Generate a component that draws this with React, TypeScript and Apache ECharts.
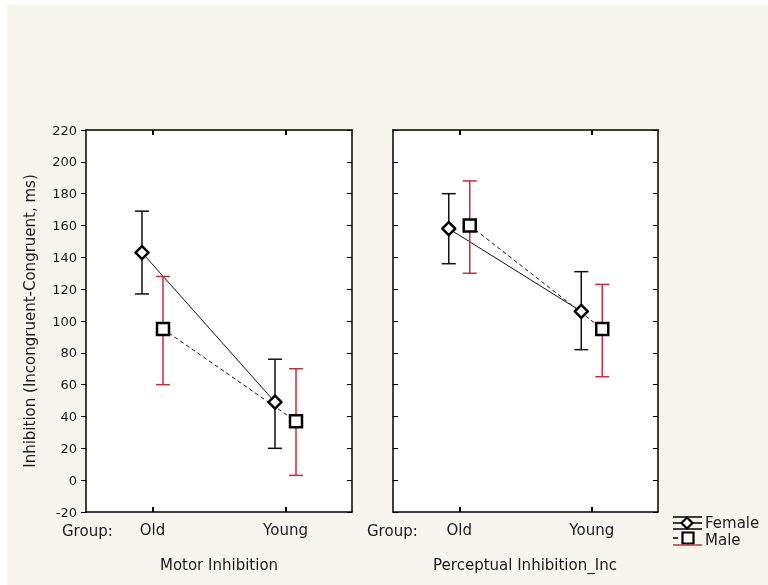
import React, { useEffect, useRef } from "react";
import * as echarts from "echarts";

const groups = ["Old", "Young"];
const yTicks = { min: -20, max: 220, interval: 20 };

const motorFemaleMean = [143, 49];
const motorFemaleLow = [117, 20];
const motorFemaleHigh = [169, 76];
const motorMaleMean = [95, 37];
const motorMaleLow = [60, 3];
const motorMaleHigh = [128, 70];

const percFemaleMean = [158, 106];
const percFemaleLow = [136, 82];
const percFemaleHigh = [180, 131];
const percMaleMean = [160, 95];
const percMaleLow = [130, 65];
const percMaleHigh = [188, 123];

const panelTitles = ["Motor Inhibition", "Perceptual Inhibition_Inc"];
const yTitle = "Inhibition (Incongruent-Congruent, ms)";
const sexes = ["Female", "Male"];

const FONT = "DejaVu Sans";
const RED = "#c4303c";
const TXT = "#1a1a1a";

function pointData(mean: number[], low: number[], high: number[]) {
  return groups.map((_, i) => [i, mean[i], low[i], high[i]]);
}
function segData(mean: number[]) {
  const out: number[][] = [];
  for (let i = 0; i < mean.length - 1; i++) out.push([i, mean[i], i + 1, mean[i + 1]]);
  return out;
}

function markerRender(offset: number, color: string, shape: "diamond" | "square") {
  return (params: any, api: any) => {
    const cat = api.value(0);
    const c = api.coord([cat, api.value(1)]);
    const lo = api.coord([cat, api.value(2)]);
    const hi = api.coord([cat, api.value(3)]);
    const x = c[0] + offset;
    const y = c[1];
    const cw = 7;
    const lineStyle = { stroke: color, lineWidth: 1.5 };
    const children: any[] = [
      { type: "line", shape: { x1: x, y1: hi[1], x2: x, y2: lo[1] }, style: { ...lineStyle } },
      { type: "line", shape: { x1: x - cw, y1: hi[1], x2: x + cw, y2: hi[1] }, style: { ...lineStyle } },
      { type: "line", shape: { x1: x - cw, y1: lo[1], x2: x + cw, y2: lo[1] }, style: { ...lineStyle } },
    ];
    if (shape === "diamond") {
      const r = 6.5;
      children.push({
        type: "polygon",
        shape: { points: [[x, y - r], [x + r, y], [x, y + r], [x - r, y]] },
        style: { fill: "#fff", stroke: "#000", lineWidth: 2.5, lineJoin: "round" },
      });
    } else {
      const s = 12;
      children.push({
        type: "rect",
        shape: { x: x - s / 2, y: y - s / 2, width: s, height: s },
        style: { fill: "#fff", stroke: "#000", lineWidth: 2.5 },
      });
    }
    return { type: "group", children };
  };
}

function segRender(offset: number, dashed: boolean) {
  return (params: any, api: any) => {
    const p0 = api.coord([api.value(0), api.value(1)]);
    const p1 = api.coord([api.value(2), api.value(3)]);
    return {
      type: "line",
      shape: { x1: p0[0] + offset, y1: p0[1], x2: p1[0] + offset, y2: p1[1] },
      style: { stroke: "#111", lineWidth: 1, lineDash: dashed ? [4, 3] : null },
    };
  };
}

const mkLine = () => ({ show: true, onZero: false, lineStyle: { color: "#000", width: 1.5 } });

export default function App() {
  const ref = useRef<HTMLDivElement>(null);
  useEffect(() => {
    if (!ref.current) return;
    const chart = echarts.init(ref.current, null, { renderer: "svg" });
    const grids = [
      { left: 86, top: 130, width: 266, height: 382 },
      { left: 393, top: 130, width: 265, height: 382 },
    ];
    const xAxis: any[] = [];
    const yAxis: any[] = [];
    grids.forEach((g, gi) => {
      xAxis.push({
        type: "category",
        gridIndex: gi,
        data: groups,
        position: "bottom",
        axisLine: mkLine(),
        axisTick: { show: true, inside: true, length: 5, alignWithLabel: true, lineStyle: { color: "#000", width: 2 } },
        axisLabel: { color: TXT, fontFamily: FONT, fontSize: 15, margin: 10 },
      });
      xAxis.push({
        type: "category",
        gridIndex: gi,
        data: groups,
        position: "top",
        axisLine: mkLine(),
        axisTick: { show: true, inside: true, length: 5, alignWithLabel: true, lineStyle: { color: "#000", width: 2 } },
        axisLabel: { show: false },
      });
      yAxis.push({
        type: "value",
        gridIndex: gi,
        position: "left",
        min: yTicks.min,
        max: yTicks.max,
        interval: yTicks.interval,
        axisLine: mkLine(),
        splitLine: { show: false },
        axisTick: { show: true, inside: gi !== 0, length: 5, lineStyle: { color: "#000", width: 1 } },
        axisLabel: { show: gi === 0, color: TXT, fontFamily: FONT, fontSize: 13, margin: 9 },
        name: gi === 0 ? yTitle : "",
        nameLocation: "middle",
        nameGap: 49,
        nameTextStyle: { color: TXT, fontFamily: FONT, fontSize: 15 },
      });
      yAxis.push({
        type: "value",
        gridIndex: gi,
        position: "right",
        min: yTicks.min,
        max: yTicks.max,
        interval: yTicks.interval,
        axisLine: mkLine(),
        splitLine: { show: false },
        axisTick: { show: true, inside: true, length: 5, lineStyle: { color: "#000", width: 1 } },
        axisLabel: { show: false },
      });
    });

    const panels = [
      {
        f: [motorFemaleMean, motorFemaleLow, motorFemaleHigh],
        m: [motorMaleMean, motorMaleLow, motorMaleHigh],
      },
      {
        f: [percFemaleMean, percFemaleLow, percFemaleHigh],
        m: [percMaleMean, percMaleLow, percMaleHigh],
      },
    ];
    const OFF = 10.5;
    const series: any[] = [];
    panels.forEach((p, gi) => {
      const xi = gi * 2;
      const yi = gi * 2;
      series.push({
        type: "custom", name: sexes[0], xAxisIndex: xi, yAxisIndex: yi,
        data: segData(p.f[0]), renderItem: segRender(-OFF, false), encode: { x: 0, y: 1 },
      });
      series.push({
        type: "custom", name: sexes[1], xAxisIndex: xi, yAxisIndex: yi,
        data: segData(p.m[0]), renderItem: segRender(OFF, true), encode: { x: 0, y: 1 },
      });
      series.push({
        type: "custom", name: sexes[0], xAxisIndex: xi, yAxisIndex: yi,
        data: pointData(p.f[0], p.f[1], p.f[2]), renderItem: markerRender(-OFF, "#111", "diamond"), encode: { x: 0, y: 1 },
      });
      series.push({
        type: "custom", name: sexes[1], xAxisIndex: xi, yAxisIndex: yi,
        data: pointData(p.m[0], p.m[1], p.m[2]), renderItem: markerRender(OFF, RED, "square"), encode: { x: 0, y: 1 },
      });
    });

    const font15 = `15px "${FONT}"`;
    const graphic: any[] = [
      { type: "rect", z: -10, silent: true, shape: { x: 7, y: 5, width: 761, height: 580 }, style: { fill: "#f7f6ee" } },
      { type: "text", x: 62, y: 531, style: { text: "Group:", fill: TXT, font: font15, verticalAlign: "middle" } },
      { type: "text", x: 367, y: 531, style: { text: "Group:", fill: TXT, font: font15, verticalAlign: "middle" } },
      { type: "text", x: 219, y: 565, style: { text: panelTitles[0], fill: TXT, font: font15, align: "center", verticalAlign: "middle" } },
      { type: "text", x: 525, y: 565, style: { text: panelTitles[1], fill: TXT, font: font15, align: "center", verticalAlign: "middle" } },
      // legend Female
      { type: "line", shape: { x1: 673, y1: 517, x2: 702, y2: 517 }, style: { stroke: "#000", lineWidth: 1.5 } },
      { type: "line", shape: { x1: 673, y1: 523, x2: 702, y2: 523 }, style: { stroke: "#000", lineWidth: 1.5 } },
      { type: "line", shape: { x1: 687, y1: 517, x2: 687, y2: 529 }, style: { stroke: "#000", lineWidth: 1.5 } },
      {
        type: "polygon", shape: { points: [[687, 517.5], [692.5, 523], [687, 528.5], [681.5, 523]] },
        style: { fill: "#fff", stroke: "#000", lineWidth: 2.2, lineJoin: "round" },
      },
      { type: "line", shape: { x1: 673, y1: 529, x2: 702, y2: 529 }, style: { stroke: "#000", lineWidth: 1.5 } },
      { type: "text", x: 705, y: 523, style: { text: sexes[0], fill: TXT, font: font15, verticalAlign: "middle" } },
      // legend Male
      { type: "line", shape: { x1: 673, y1: 538, x2: 678, y2: 538 }, style: { stroke: "#000", lineWidth: 1.5 } },
      { type: "line", shape: { x1: 688, y1: 532, x2: 688, y2: 545 }, style: { stroke: RED, lineWidth: 1.5 } },
      { type: "rect", shape: { x: 682.5, y: 532.5, width: 11, height: 11 }, style: { fill: "#fff", stroke: "#000", lineWidth: 2.2 } },
      { type: "line", shape: { x1: 673, y1: 545, x2: 702, y2: 545 }, style: { stroke: RED, lineWidth: 1.5 } },
      { type: "text", x: 705, y: 540, style: { text: sexes[1], fill: TXT, font: font15, verticalAlign: "middle" } },
    ];

    chart.setOption({
      animation: false,
      grid: grids.map((g) => ({ ...g, show: true, backgroundColor: "#fff", borderWidth: 0 })),
      xAxis,
      yAxis,
      series,
      graphic,
    });
    return () => chart.dispose();
  }, []);
  return <div ref={ref} style={{ position: "fixed", left: 0, top: 0, width: 768, height: 585 }} />;
}
